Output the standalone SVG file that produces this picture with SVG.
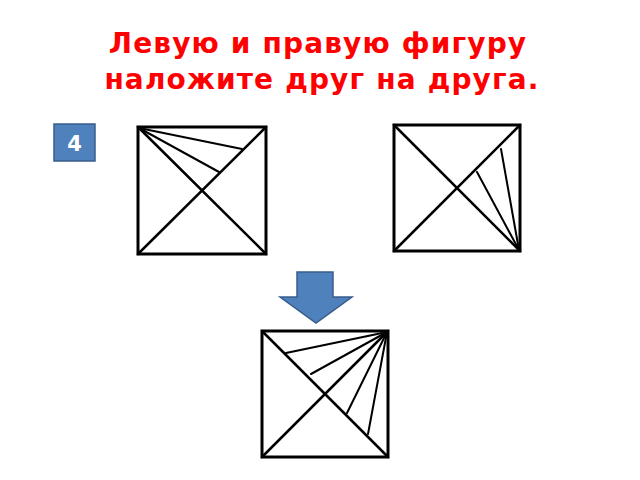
<svg xmlns="http://www.w3.org/2000/svg" width="640" height="480" viewBox="0 0 640 480">
<style>
.title{font-family:"DejaVu Sans",Verdana,sans-serif;font-weight:bold;font-size:28px;fill:#ff0000;text-anchor:middle;letter-spacing:1.15px}
.sq{fill:#fff;stroke:#000;stroke-width:3}
.dg{stroke:#000;stroke-width:2.5;fill:none;stroke-linecap:round}
.fan{stroke:#000;stroke-width:2;fill:none;stroke-linecap:round}
.blue{fill:#4f81bd;stroke:#385d8a;stroke-width:1.5}
.badge{font-family:"DejaVu Sans",Verdana,sans-serif;font-weight:bold;font-size:21px;fill:#fff;text-anchor:middle}
</style>
<rect width="640" height="480" fill="#fff"/>
<g id="title">
<text class="title" x="318" y="53">Левую и правую фигуру</text>
<text class="title" x="322" y="89">наложите друг на друга.</text>
</g>
<g id="badge">
<rect class="blue" x="54" y="124" width="41" height="37"/>
<text class="badge" x="74.5" y="150.5">4</text>
</g>
<g id="left-figure">
<rect class="sq" x="138" y="127" width="128" height="127"/>
<line class="dg" x1="138" y1="127" x2="266" y2="254"/>
<line class="dg" x1="266" y1="127" x2="138" y2="254"/>
<line class="fan" x1="139" y1="128" x2="242" y2="149"/>
<line class="fan" x1="139" y1="128" x2="219" y2="172"/>
</g>
<g id="right-figure">
<rect class="sq" x="394" y="125" width="126" height="126"/>
<line class="dg" x1="394" y1="125" x2="520" y2="251"/>
<line class="dg" x1="520" y1="125" x2="394" y2="251"/>
<line class="fan" x1="519" y1="250" x2="501" y2="149"/>
<line class="fan" x1="519" y1="250" x2="477" y2="172"/>
</g>
<g id="arrow">
<polygon class="blue" points="297,272 333,272 333,297 352,297 316,323 280,297 297,297"/>
</g>
<g id="result-figure">
<rect class="sq" x="262" y="331" width="126" height="126"/>
<line class="dg" x1="262" y1="331" x2="388" y2="457"/>
<line class="dg" x1="388" y1="331" x2="262" y2="457"/>
<line class="fan" x1="387" y1="332" x2="286" y2="353"/>
<line class="fan" x1="387" y1="332" x2="311" y2="374"/>
<line class="fan" x1="387" y1="332" x2="347" y2="413"/>
<line class="fan" x1="387" y1="332" x2="368" y2="434"/>
</g>
</svg>
